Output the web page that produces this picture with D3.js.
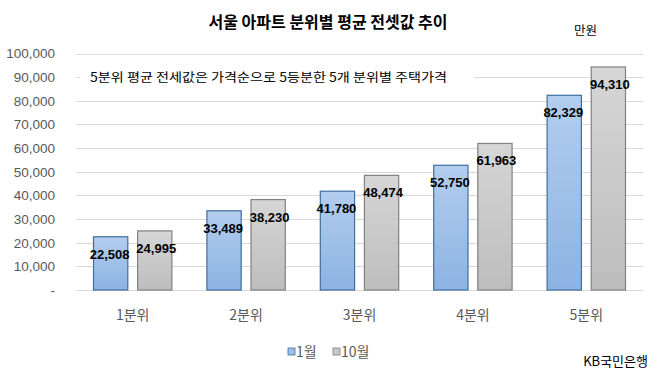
<!DOCTYPE html>
<html><head><meta charset="utf-8">
<script src="https://cdn.jsdelivr.net/npm/d3@7"></script>
<style>
html,body{margin:0;padding:0;background:#fff;}
svg{display:block;}
</style></head>
<body>
<svg id="chart" width="658" height="369"></svg>
<script>
const categories = ["1분위","2분위","3분위","4분위","5분위"];
const seriesNames = ["1월","10월"];
const janValues = [22508, 33489, 41780, 52750, 82329];
const octValues = [24995, 38230, 48474, 61963, 94310];
const yTicks = [0,10000,20000,30000,40000,50000,60000,70000,80000,90000,100000];
const title = "서울 아파트 분위별 평균 전셋값 추이";
const unitLabel = "만원";
const note = "5분위 평균 전세값은 가격순으로 5등분한 5개 분위별 주택가격";
const source = "KB국민은행";

(function(){
const svg = d3.select("#chart");
const FONT = "'Noto Sans CJK KR','Noto Sans',sans-serif";
const NUMFONT = "'Liberation Sans',Arial,sans-serif";

const pLeft = 76, pRight = 643, pTop = 53.5, pBottom = 290;
const x = d3.scaleBand().domain(categories).range([pLeft, pRight]).paddingInner(0.3).paddingOuter(0.15);
const xs = d3.scaleBand().domain(seriesNames).range([0, x.bandwidth()]).paddingInner(0.2).paddingOuter(0);
const y = d3.scaleLinear().domain([0, 100000]).range([pBottom, pTop]);

const defs = svg.append("defs");
function grad(id, c1, c2){
  const g = defs.append("linearGradient").attr("id", id).attr("x1",0).attr("y1",0).attr("x2",0).attr("y2",1);
  g.append("stop").attr("offset","0%").attr("stop-color",c1);
  g.append("stop").attr("offset","100%").attr("stop-color",c2);
}
grad("gBlue", "#b3cdee", "#8cb3e3");
grad("gGray", "#d6d6d6", "#bdbdbd");
const fills = {"1월":"url(#gBlue)","10월":"url(#gGray)"};
const strokes = {"1월":"#3e6f9e","10월":"#808080"};
const swatch = {"1월":"#9dc0ea","10월":"#c8c8c8"};

// gridlines
svg.append("g").selectAll("line").data(yTicks).join("line")
  .attr("x1", pLeft).attr("x2", pRight)
  .attr("y1", d => Math.round(y(d)) + 0.5).attr("y2", d => Math.round(y(d)) + 0.5)
  .attr("stroke", "#d9d9d9").attr("stroke-width", 1);

// y axis labels
const yAxis = d3.axisLeft(y).tickValues(yTicks).tickSize(0)
  .tickFormat(d => d === 0 ? "-" : d3.format(",")(d));
const ya = svg.append("g").attr("transform", `translate(58,0)`).call(yAxis);
ya.select(".domain").remove();
ya.selectAll("text").attr("font-family", NUMFONT).attr("font-size", 13.5).attr("fill", "#595959").attr("dx", 0);

// annotation box covering 90,000 gridline
svg.append("rect").attr("x", 80).attr("y", y(90000) - 11).attr("width", 394).attr("height", 22).attr("fill", "#fff");
svg.append("text").attr("x", 90).attr("y", y(90000) + 4.5)
  .attr("font-family", FONT).attr("font-size", 12.5).attr("fill", "#000")
  .attr("textLength", 357).attr("lengthAdjust", "spacingAndGlyphs").text(note);

// bars
const rows = categories.map((c, i) => ({cat: c, vals: [{s: "1월", v: janValues[i]}, {s: "10월", v: octValues[i]}]}));
const groups = svg.append("g").selectAll("g").data(rows).join("g")
  .attr("transform", d => `translate(${x(d.cat)},0)`);
groups.selectAll("rect").data(d => d.vals).join("rect")
  .attr("x", d => xs(d.s) + 0.5).attr("width", xs.bandwidth() - 1)
  .attr("y", d => y(d.v)).attr("height", d => pBottom - y(d.v))
  .attr("fill", d => fills[d.s]).attr("stroke", d => strokes[d.s]).attr("stroke-width", 1.2);
groups.selectAll("text").data(d => d.vals).join("text")
  .attr("x", d => xs(d.s) + xs.bandwidth() / 2 + (d.s === "1월" ? -1 : 1.5))
  .attr("y", d => y(d.v) + 22)
  .attr("text-anchor", "middle")
  .attr("font-family", NUMFONT).attr("font-weight", "bold").attr("font-size", 13).attr("fill", "#000")
  .text(d => d3.format(",")(d.v));

// x axis labels
svg.append("g").selectAll("text").data(categories).join("text")
  .attr("x", d => x(d) + x.bandwidth() / 2).attr("y", 320)
  .attr("text-anchor", "middle").attr("font-family", FONT).attr("font-size", 14).attr("fill", "#595959")
  .text(d => d);

// title
svg.append("text").attr("x", 328).attr("y", 28).attr("text-anchor", "middle")
  .attr("font-family", FONT).attr("font-weight", "bold").attr("font-size", 16).attr("fill", "#000").text(title);
svg.append("text").attr("x", 574).attr("y", 35)
  .attr("font-family", FONT).attr("font-size", 12.5).attr("fill", "#000").text(unitLabel);

// legend
const legendX = [288, 333];
const lg = svg.append("g").selectAll("g").data(seriesNames).join("g")
  .attr("transform", (d, i) => `translate(${legendX[i]},0)`);
lg.append("rect").attr("x", 0).attr("y", 348).attr("width", 7).attr("height", 7)
  .attr("fill", d => swatch[d]).attr("stroke", d => strokes[d]).attr("stroke-width", 0.8);
lg.append("text").attr("x", 8).attr("y", 356.5)
  .attr("font-family", FONT).attr("font-size", 14).attr("fill", "#595959").text(d => d);

// source
svg.append("text").attr("x", 648).attr("y", 366).attr("text-anchor", "end")
  .attr("font-family", FONT).attr("font-size", 13).attr("fill", "#000").text(source);
})();
</script>
</body></html>
